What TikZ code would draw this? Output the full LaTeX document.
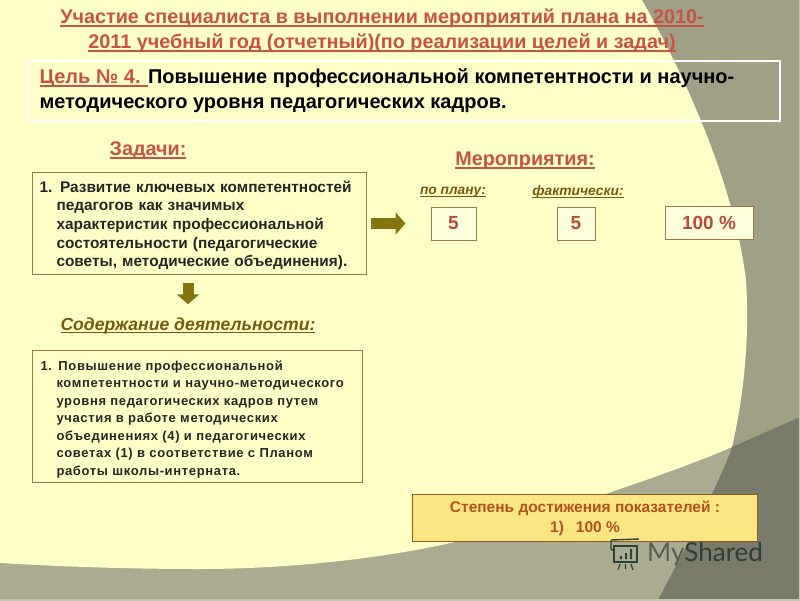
\documentclass[tikz,border=0pt]{standalone}
\usepackage{fontspec}
\setmainfont{Liberation Sans}
\newfontfamily\shared{Lato}
\newfontfamily\spaced[LetterSpace=5,WordSpace=1.6]{Liberation Sans}
\usetikzlibrary{arrows.meta}
\newcommand\ulin[1]{\sbox0{#1}\rlap{\rule[-2.8pt]{\wd0}{1.3pt}}\usebox0}
\definecolor{paper}{RGB}{255,255,200}
\definecolor{greyup}{RGB}{160,160,134}
\definecolor{greylow}{RGB}{171,171,146}
\definecolor{greydark}{RGB}{122,122,106}
\definecolor{redhead}{RGB}{200,82,68}
\definecolor{redno}{RGB}{186,74,62}
\definecolor{brownhead}{RGB}{122,88,20}
\definecolor{boxline}{RGB}{160,120,70}
\definecolor{olive}{RGB}{133,117,16}
\definecolor{resfill}{RGB}{250,230,130}
\definecolor{resline}{RGB}{150,90,30}
\definecolor{restext}{RGB}{184,80,30}
\definecolor{logogrey}{RGB}{88,94,88}
\definecolor{logodark}{RGB}{44,66,56}
\tikzset{
  head/.style={font=\bfseries\fontsize{19.8}{20}\selectfont, text=redhead},
  subhead/.style={font=\bfseries\itshape\fontsize{13.8}{14}\selectfont, text=brownhead},
  textbox/.style={draw=boxline, line width=1pt, align=left, anchor=north west, inner sep=0pt, text=black!85},
  numbox/.style={draw=boxline, line width=1pt, fill=paper!60!white, text=redno, font=\bfseries\fontsize{19}{19}\selectfont},
  flow/.style={draw=olive, line width=11pt, -{Triangle[length=10pt, width=22pt]}}
}
\begin{document}
\begin{tikzpicture}[x=1pt, y=-1pt]
  \useasboundingbox (0,0) rectangle (800,600);
  \fill[greylow] (0,0) rectangle (800,600);
  \fill[greyup] (640,0) -- (800,0) -- (800,417) -- (732,447) -- (732,300) -- cycle;
  \fill[greydark] (800,417) -- (732,447) .. controls (725,470) and (690,540) .. (658,600) -- (800,600) -- cycle;
  \fill[paper] (0,0) -- (642,0) .. controls (690,85) and (735,190) .. (746,280)
    .. controls (750,340) and (743,400) .. (732,447)
    .. controls (680,470) and (600,495) .. (540,517)
    .. controls (440,555) and (300,569) .. (200,569)
    .. controls (120,569) and (50,566) .. (0,563) -- cycle;
  \draw[greylow!70!white, line width=3pt] (800,0) -- (800,600) -- (0,600);

  \node[head, align=center, font=\bfseries\fontsize{19.8}{25}\selectfont] (title) at (382,31)
    {\ulin{Участие специалиста в выполнении мероприятий плана на 2010-}\\
     \ulin{2011 учебный год (отчетный)(по реализации целей и задач)}};

  \node[draw=white, line width=2pt, minimum width=752, minimum height=60, anchor=north west,
    inner sep=0pt] (goalbox) at (27,60) {};
  \node[anchor=west, align=left, font=\bfseries\fontsize{20}{25}\selectfont] (goal) at (36,91)
    {\textcolor{redhead}{\ulin{Цель № 4. }}Повышение профессиональной компетентности и научно-\\
     методического уровня педагогических кадров.};

  \node[head] (tasks) at (148,151) {\ulin{Задачи:}};
  \node[textbox, text width=334, minimum height=102, font=\bfseries\fontsize{15.4}{18.7}\selectfont] (task) at (32,172)
    {\rule{0pt}{15pt}\hspace*{7pt}1. Развитие ключевых компетентностей\\
     \hspace*{24pt}педагогов как значимых\\
     \hspace*{24pt}характеристик профессиональной\\
     \hspace*{24pt}состоятельности (педагогические\\
     \hspace*{24pt}советы, методические объединения).};

  \node[head] (events) at (525,161) {\ulin{Мероприятия:}};
  \node[subhead] (planlabel) at (453,192) {\ulin{по плану:}};
  \node[subhead] (factlabel) at (578,192) {\ulin{фактически:}};
  \node[numbox, minimum width=45, minimum height=33] (plan) at (453.5,223.5) {5};
  \node[numbox, minimum width=38, minimum height=33] (fact) at (576,223.5) {5};
  \node[numbox, minimum width=88, minimum height=33] (percent) at (709,222.5) {100 \%};

  \node[subhead, font=\bfseries\itshape\fontsize{17.6}{18}\selectfont] (content) at (188,326) {\ulin{Содержание деятельности:}};
  \node[textbox, text width=330, minimum height=132, font=\spaced\bfseries\fontsize{13}{17.5}\selectfont] (work) at (32,350)
    {\rule{0pt}{15pt}\hspace*{8pt}1. Повышение профессиональной\\
     \hspace*{24pt}компетентности и научно-методического\\
     \hspace*{24pt}уровня педагогических кадров путем\\
     \hspace*{24pt}участия в работе методических\\
     \hspace*{24pt}объединениях (4) и педагогических\\
     \hspace*{24pt}советах (1) в соответствие с Планом\\
     \hspace*{24pt}работы школы-интерната.};

  \coordinate (downstart) at (188,283);
  \draw[flow, shorten >=25pt] (task.east) ++(4,0) -- (plan.west);
  \draw[flow, shorten >=10pt] (downstart) -- (downstart |- content.north);

  \node[draw=resline, line width=1pt, fill=resfill, minimum width=345, minimum height=47, anchor=north west,
    inner sep=0pt, align=center, text=restext, font=\bfseries\fontsize{15.5}{20}\selectfont] (result) at (412,494)
    {Степень достижения показателей :\\1)\hspace{12pt}100 \%};

  \node[anchor=west, inner sep=0pt, font=\shared\fontsize{26}{26}\selectfont] (logo) at (647,554)
    {\textcolor{logogrey}{My}\textcolor{logodark}{Shared}};
  \draw[logodark, line width=1.4pt] (614,546) rectangle (637,562);
  \draw[logodark, line width=1.4pt] (611,540) -- (639,539) (611,540) -- (611,549) -- (614,551);
  \fill[logodark] (620,556) rectangle (622,559) (625,553) rectangle (627,559) (630,549) rectangle (632,559);
  \draw[logodark, line width=1.2pt] (620,564) -- (618,570) (625.5,564) -- (625.5,569) (631,564) -- (633,570);
\end{tikzpicture}
\end{document}
